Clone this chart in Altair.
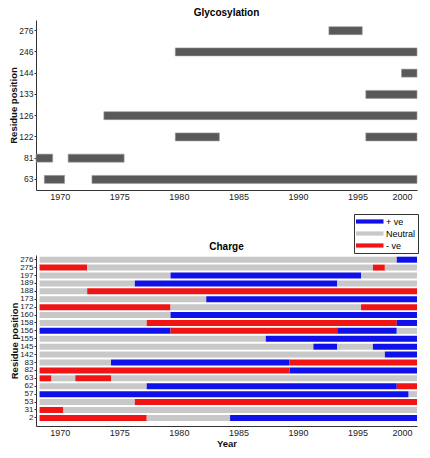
import altair as alt
import pandas as pd

# ---------------- Glycosylation data ----------------
glyco_order = ["276", "246", "144", "133", "126", "122", "81", "63"]
glyco_residue = ["276", "246", "144", "133", "126", "122", "122", "81", "81", "63", "63"]
glyco_start = [1992.6, 1979.7, 1998.7, 1995.7, 1973.7, 1979.7, 1995.7, 1968.0, 1970.7, 1968.7, 1972.7]
glyco_end = [1995.4, 2000.0, 2000.0, 2000.0, 2000.0, 1983.4, 2000.0, 1969.4, 1975.4, 1970.4, 2000.0]

# ---------------- Charge data ----------------
charge_order = ["276", "275", "197", "189", "188", "173", "172", "160", "158", "156",
                "155", "145", "142", "83", "82", "63", "62", "57", "53", "31", "2"]
charge_first_year = 1968.3
charge_ends = [
    [1998.3, 2000],
    [1972.3, 1996.3, 1997.3, 2000],
    [1979.3, 1995.3, 2000],
    [1976.3, 1993.3, 2000],
    [1972.3, 2000],
    [1982.3, 2000],
    [1979.3, 1995.3, 2000],
    [1979.3, 2000],
    [1977.3, 1998.3, 2000],
    [1979.3, 1993.3, 1998.3, 2000],
    [1987.3, 2000],
    [1991.3, 1993.3, 1996.3, 2000],
    [1997.3, 2000],
    [1974.3, 1989.3, 2000],
    [1989.3, 2000],
    [1969.3, 1971.3, 1974.3, 2000],
    [1977.3, 1998.3, 2000],
    [1999.3, 2000],
    [1976.3, 2000],
    [1970.3, 2000],
    [1977.3, 1984.3, 2000],
]
charge_states = [
    ["Neutral", "+ ve"],
    ["- ve", "Neutral", "- ve", "Neutral"],
    ["Neutral", "+ ve", "Neutral"],
    ["Neutral", "+ ve", "Neutral"],
    ["Neutral", "- ve"],
    ["Neutral", "+ ve"],
    ["- ve", "Neutral", "- ve"],
    ["Neutral", "+ ve"],
    ["Neutral", "- ve", "+ ve"],
    ["+ ve", "- ve", "+ ve", "Neutral"],
    ["Neutral", "+ ve"],
    ["Neutral", "+ ve", "Neutral", "+ ve"],
    ["Neutral", "+ ve"],
    ["Neutral", "+ ve", "- ve"],
    ["- ve", "+ ve"],
    ["- ve", "Neutral", "- ve", "Neutral"],
    ["Neutral", "+ ve", "- ve"],
    ["+ ve", "Neutral"],
    ["Neutral", "- ve"],
    ["- ve", "Neutral"],
    ["- ve", "Neutral", "+ ve"],
]
state_labels = ["+ ve", "Neutral", "- ve"]
state_colors = ["#1010e8", "#c8c8c8", "#f01414"]

year_ticks = [1970, 1975, 1980, 1985, 1990, 1995, 2000]

# ---------------- Build tables ----------------
glyco_df = pd.DataFrame({"residue": glyco_residue, "start": glyco_start, "end": glyco_end})

rows = []
for res, ends, states in zip(charge_order, charge_ends, charge_states):
    s = charge_first_year
    for e, st in zip(ends, states):
        rows.append({"residue": res, "start": s, "end": e, "state": st})
        s = e
charge_df = pd.DataFrame(rows)

FONT = "Liberation Sans"
W = 381
xscale = alt.Scale(domain=[1968, 2000], nice=False, zero=False)


def x_axis(title=None):
    kw = dict(values=year_ticks, format="d", ticks=False, labelPadding=2,
              labelOffset={"expr": "datum.value == 2000 ? -5 : 0"})
    if title:
        return alt.Axis(title=title, titlePadding=1, **kw)
    return alt.Axis(title=None, **kw)


top = alt.Chart(glyco_df).mark_bar(height=8, color="#595959", stroke="#9a9a9a", strokeWidth=0.6).encode(
    x=alt.X("start:Q", scale=xscale, axis=x_axis()),
    x2="end:Q",
    y=alt.Y("residue:N", sort=glyco_order,
            scale=alt.Scale(paddingInner=0, paddingOuter=0),
            axis=alt.Axis(title="Residue position", tickSize=2, labelPadding=1, titlePadding=0,
                          labelFontSize=8.5)),
).properties(
    width=W, height=170,
    title=alt.TitleParams("Glycosylation", fontSize=10, font=FONT, fontWeight="bold", offset=2, frame="group"),
)

bottom = alt.Chart(charge_df).mark_bar(height=6).encode(
    x=alt.X("start:Q", scale=xscale, axis=x_axis("Year")),
    x2="end:Q",
    y=alt.Y("residue:N", sort=charge_order,
            scale=alt.Scale(paddingInner=0, paddingOuter=0.31, align=0.15),
            axis=alt.Axis(title="Residue position", tickSize=2, labelPadding=1, titlePadding=0,
                          labelFontSize=8)),
    color=alt.Color("state:N", scale=alt.Scale(domain=state_labels, range=state_colors),
                    legend=alt.Legend(title=None, orient="none", legendX=318, legendY=-41,
                                      symbolType="M-1,-0.38L4,-0.38L4,0.38L-1,0.38Z",
                                      symbolSize=121, symbolStrokeWidth=0,
                                      labelFontSize=9, labelFont=FONT, labelOffset=19,
                                      padding=2, rowPadding=1, strokeColor="#333333",
                                      fillColor="white")),
).properties(
    width=W, height=171,
    title=alt.TitleParams("Charge", fontSize=10, font=FONT, fontWeight="bold", offset=4, dy=42,
                          frame="group"),
)

chart = alt.vconcat(top, bottom, spacing=65, bounds="flush").resolve_scale(color="independent").properties(
    padding={"left": 0, "top": 0, "right": 0, "bottom": 0}
).configure_view(stroke=None).configure_axis(
    labelFont=FONT, titleFont=FONT, labelFontSize=9, titleFontSize=9.5, titleFontWeight="bold",
    labelColor="#222222", titleColor="#111111", domainColor="#333333", tickColor="#333333", grid=False,
)

chart.save("out.html", embed_options={"renderer": "svg", "actions": False})
